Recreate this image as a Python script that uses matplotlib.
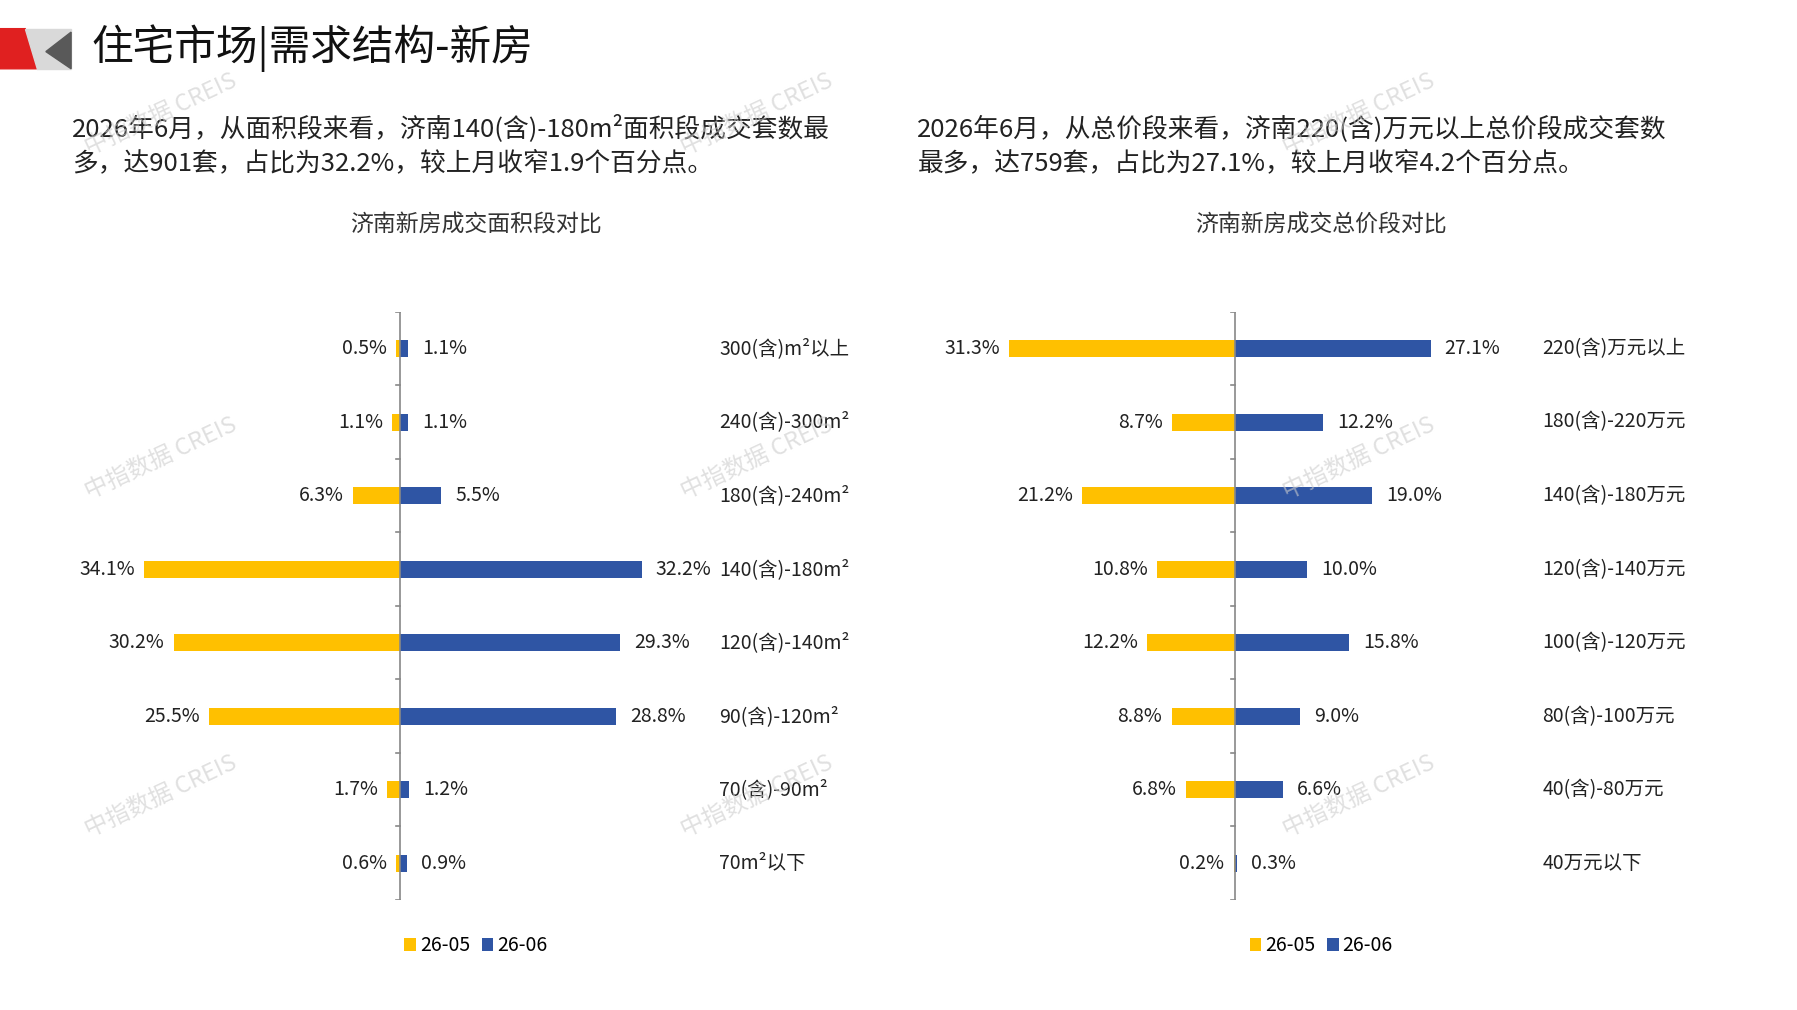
import matplotlib
matplotlib.use("Agg")
import matplotlib.pyplot as plt
from matplotlib.patches import Polygon

plt.rcParams['font.family'] = ['Noto Sans CJK SC', 'DejaVu Sans']

area_cats = ["300(含)m²以上", "240(含)-300m²", "180(含)-240m²", "140(含)-180m²",
             "120(含)-140m²", "90(含)-120m²", "70(含)-90m²", "70m²以下"]
area_prev = [0.5, 1.1, 6.3, 34.1, 30.2, 25.5, 1.7, 0.6]
area_curr = [1.1, 1.1, 5.5, 32.2, 29.3, 28.8, 1.2, 0.9]

price_cats = ["220(含)万元以上", "180(含)-220万元", "140(含)-180万元", "120(含)-140万元",
              "100(含)-120万元", "80(含)-100万元", "40(含)-80万元", "40万元以下"]
price_prev = [31.3, 8.7, 21.2, 10.8, 12.2, 8.8, 6.8, 0.2]
price_curr = [27.1, 12.2, 19.0, 10.0, 15.8, 9.0, 6.6, 0.3]

series_names = ["26-05", "26-06"]
YEL, BLU = "#FFC000", "#2F55A4"
W, H = 1567.0, 881.0

fig = plt.figure(figsize=(17.97, 10.10), dpi=100)

def fx(x): return x / W
def fy(y): return 1 - y / H

# logo
fig.patches.append(Polygon([[fx(0), fy(25)], [fx(22), fy(25)], [fx(32), fy(60)], [fx(0), fy(60)]],
                           closed=True, transform=fig.transFigure, color="#E02020"))
fig.patches.append(Polygon([[fx(22), fy(25)], [fx(62), fy(25)], [fx(62), fy(60)], [fx(32), fy(60)]],
                           closed=True, transform=fig.transFigure, color="#D9D9D9"))
fig.patches.append(Polygon([[fx(40), fy(45)], [fx(62), fy(28)], [fx(62), fy(60)]],
                           closed=True, transform=fig.transFigure, color="#595959"))
fig.text(fx(80), fy(42), "住宅市场|需求结构-新房", fontsize=30, va="center", color="#111111")

fig.text(fx(63), fy(127), "2026年6月，从面积段来看，济南140(含)-180m²面积段成交套数最\n多，达901套，占比为32.2%，较上月收窄1.9个百分点。",
         fontsize=18.5, va="center", linespacing=1.4, color="#222222")
fig.text(fx(800), fy(127), "2026年6月，从总价段来看，济南220(含)万元以上总价段成交套数\n最多，达759套，占比为27.1%，较上月收窄4.2个百分点。",
         fontsize=18.5, va="center", linespacing=1.4, color="#222222")

def panel(cats, prev, curr, x0, scale, title, tcx, labx):
    left, right = (60 if x0 < 700 else 790), x0 + 270
    ax = fig.add_axes([fx(left), fy(785), (right - left) / W, (785 - 272) / H])
    ax.set_xlim(-(x0 - left) / scale, (right - x0) / scale)
    n = len(cats)
    ax.set_ylim(n - 0.5, -0.5)
    ys = list(range(n))
    ax.barh(ys, [-v for v in prev], height=0.23, color=YEL, label=series_names[0])
    ax.barh(ys, curr, height=0.23, color=BLU, label=series_names[1])
    ax.axvline(0, color="#888888", lw=1.2)
    for b in [i - 0.5 for i in range(n + 1)]:
        ax.plot([-0.6, 0], [b, b], color="#888888", lw=1.2)
    for y, p, c in zip(ys, prev, curr):
        ax.text(-p - 8 / scale, y, f"{p:.1f}%", ha="right", va="center", fontsize=14, color="#222222")
        ax.text(c + 12 / scale, y, f"{c:.1f}%", ha="left", va="center", fontsize=14, color="#222222")
    for spine in ax.spines.values():
        spine.set_visible(False)
    ax.set_xticks([]); ax.set_yticks([])
    ax.patch.set_alpha(0)
    for i, c in enumerate(cats):
        fig.text(fx(labx), fy(304 + 64.2 * i), c, ha="left", va="center", fontsize=14, color="#222222")
    fig.text(fx(tcx), fy(196), title, ha="center", va="center", fontsize=16.5, color="#333333")
    ax.legend(loc="center", bbox_to_anchor=((tcx - left) / (right - left), (785 - 825) / (785 - 272)),
              ncol=2, frameon=False, fontsize=14, handlelength=0.6, handleheight=0.6,
              columnspacing=0.6, handletextpad=0.2)

panel(area_cats, area_prev, area_curr, 349, 6.54, "济南新房成交面积段对比", 415, 627)
panel(price_cats, price_prev, price_curr, 1077, 6.3, "济南新房成交总价段对比", 1152, 1345)

for (x, y) in [(140, 100), (140, 400), (140, 695), (660, 100), (660, 400), (660, 695),
               (1185, 100), (1185, 400), (1185, 695)]:
    fig.text(fx(x), fy(y), "中指数据 CREIS", rotation=25, ha="center", va="center",
             fontsize=17, color="#CCCCCC", alpha=0.6)

fig.savefig("out.png", dpi=100)
